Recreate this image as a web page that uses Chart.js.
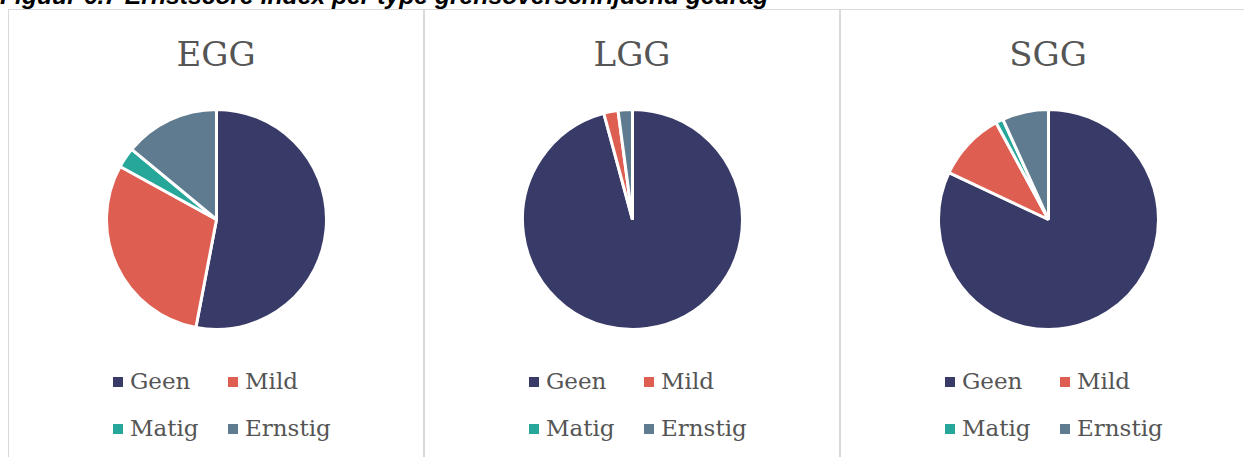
<!DOCTYPE html>
<html>
<head>
<meta charset="utf-8">
<script src="https://cdn.jsdelivr.net/npm/chart.js@4.4.1/dist/chart.umd.min.js"></script>
<style>
  html, body { margin: 0; padding: 0; background: #fff; }
  body { width: 1244px; height: 457px; overflow: hidden; position: relative; }
  .caption {
    position: absolute; left: 0px; top: -16.5px; white-space: nowrap;
    font-family: "Liberation Sans", Arial, sans-serif; font-weight: bold; font-style: italic;
    font-size: 24.7px; line-height: 24px; color: #000;
  }
  .panel {
    position: absolute; top: 9px; width: 416px; height: 470px;
    box-sizing: border-box; border: 1px solid #d9d9d9;
  }
  .panel-title {
    position: absolute; left: 0; top: 27px; width: 100%; text-align: center;
    font-family: "DejaVu Serif", serif; font-size: 34px; line-height: 34px; color: #555555;
  }
  .pie-box { position: absolute; left: 96px; top: 98px; width: 223px; height: 223px; }
  .legend {
    position: absolute; left: 104px; top: 348px; width: 240px;
    display: grid; grid-template-columns: 115px 115px;
    font-family: "DejaVu Serif", serif; font-size: 23px; line-height: 47px; color: #555555;
  }
  .legend-item { display: flex; align-items: center; height: 47px; white-space: nowrap; }
  .legend-item span.box { display: inline-block; width: 10px; height: 10px; margin-right: 7px; }
</style>
</head>
<body>
<div class="caption">Figuur 6.7 Ernstscore index per type grensoverschrijdend gedrag</div>
<div id="panels"></div>

<script>
// categories + values per chart (percentages)
var categories  = ['Geen', 'Mild', 'Matig', 'Ernstig'];
var chartTitles = ['EGG', 'LGG', 'SGG'];
var eggValues   = [53, 30, 3, 14];
var lggValues   = [95.8, 2.1, 0, 2.1];
var sggValues   = [82, 10.1, 1.1, 6.8];
var sliceColors = ['#383a67', '#de5e51', '#27a69a', '#5f7b8f'];

var allValues = [eggValues, lggValues, sggValues];

// legend built from the chart's own labels / colours
var htmlLegendPlugin = {
  id: 'htmlLegend',
  afterUpdate: function (chart, args, options) {
    var box = document.getElementById(options.containerID);
    box.innerHTML = '';
    var items = chart.options.plugins.legend.labels.generateLabels(chart);
    items.forEach(function (item) {
      var li = document.createElement('div');
      li.className = 'legend-item';
      var sw = document.createElement('span');
      sw.className = 'box';
      sw.style.background = item.fillStyle;
      li.appendChild(sw);
      li.appendChild(document.createTextNode(item.text));
      box.appendChild(li);
    });
  }
};

var panels = document.getElementById('panels');

chartTitles.forEach(function (title, i) {
  var panel = document.createElement('div');
  panel.className = 'panel';
  panel.style.left = (8 + 416 * i) + 'px';
  panel.innerHTML =
    '<div class="panel-title">' + title + '</div>' +
    '<div class="pie-box"><canvas id="pie' + i + '" width="223" height="223"></canvas></div>' +
    '<div class="legend" id="legend' + i + '"></div>';
  panels.appendChild(panel);

  var ctx = document.getElementById('pie' + i).getContext('2d');
  new Chart(ctx, {
    type: 'pie',
    data: {
      labels: categories,
      datasets: [{
        data: allValues[i],
        backgroundColor: sliceColors,
        borderColor: '#ffffff',
        borderWidth: 3
      }]
    },
    options: {
      responsive: false,
      animation: false,
      layout: { padding: 0 },
      plugins: {
        legend: { display: false },
        tooltip: { enabled: false },
        htmlLegend: { containerID: 'legend' + i }
      }
    },
    plugins: [htmlLegendPlugin]
  });
});
</script>
</body>
</html>
